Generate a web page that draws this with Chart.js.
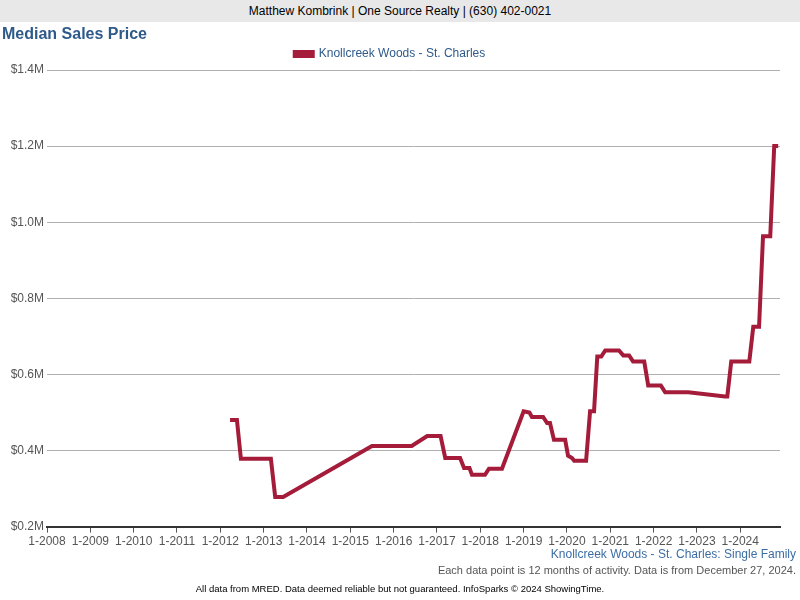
<!DOCTYPE html>
<html><head><meta charset="utf-8">
<script src="https://cdn.jsdelivr.net/npm/chart.js@4"></script>
<style>
body{margin:0;width:800px;height:600px;position:relative;font-family:Arial,"Liberation Sans",sans-serif;background:#fff;overflow:hidden}
#hdr{position:absolute;left:0;top:0;width:800px;height:22px;background:#e8e8e8;text-align:center;font-size:12px;line-height:22px;color:#000}
#ttl{position:absolute;left:2px;top:25px;font-size:16px;font-weight:bold;color:#2e5a8a}
.t{position:absolute;right:4px;font-size:11px}
#c{position:absolute;left:0;top:0}
</style></head><body>
<canvas id="c" width="800" height="600"></canvas>
<div id="hdr">Matthew Kombrink | One Source Realty | (630) 402-0021</div>
<div id="ttl">Median Sales Price</div>
<div class="t" style="top:547px;color:#3b6ea5;font-size:12px">Knollcreek Woods - St. Charles: Single Family</div>
<div class="t" style="top:564px;color:#555">Each data point is 12 months of activity. Data is from December 27, 2024.</div>
<div style="position:absolute;top:583px;width:800px;text-align:center;font-size:9.5px;color:#000">All data from MRED. Data deemed reliable but not guaranteed. InfoSparks © 2024 ShowingTime.</div>
<script>
const seriesName = "Knollcreek Woods - St. Charles";
// months since Jan 2008
const months = [50.7,52.6,53.7,62,63.2,65.4,90,101,105.3,109,110.3,114.4,115.5,117,117.7,121.3,122.4,126,132,133.6,134.3,137.4,138.5,139.3,140.4,143.5,144.3,145.4,146,149.3,150.4,151.5,152.4,153.5,154.6,158.4,159.6,161.2,162.3,165.4,166.5,170,171.2,177.6,187.8,188.4,189.5,194.5,195.6,197.2,198.3,200.3,201.4,202.5];
const prices = [0.48,0.48,0.378,0.378,0.278,0.278,0.412,0.412,0.438,0.438,0.38,0.38,0.354,0.354,0.336,0.336,0.352,0.352,0.503,0.5,0.488,0.488,0.472,0.472,0.428,0.428,0.386,0.38,0.373,0.373,0.503,0.503,0.647,0.647,0.663,0.663,0.65,0.65,0.634,0.634,0.571,0.571,0.553,0.553,0.542,0.542,0.634,0.634,0.725,0.725,0.963,0.963,1.2,1.2];
const yTicks = [0.2,0.4,0.6,0.8,1.0,1.2,1.4];
const startYear = 2008;
new Chart(document.getElementById('c'),{
 type:'line',
 data:{datasets:[{label:seriesName,data:months.map((m,i)=>({x:m,y:prices[i]})),borderColor:'#a51c3a',backgroundColor:'#a51c3a',borderWidth:4,pointRadius:0,tension:0}]},
 options:{responsive:false,animation:false,
  layout:{padding:{top:44,right:20,bottom:49,left:0}},
  plugins:{legend:{labels:{boxWidth:18,boxHeight:4,color:'#2e5a8a',font:{size:12,family:'Arial'},padding:4}},tooltip:{enabled:false}},
  scales:{
   x:{type:'linear',min:0,max:203,afterBuildTicks:a=>{a.ticks=[];for(let v=0;v<=192;v+=12)a.ticks.push({value:v});},
      ticks:{callback:v=>'1-'+(startYear+v/12),color:'#555',font:{size:12,family:'Arial'},maxRotation:0,autoSkip:false,padding:2},
      grid:{display:true,drawOnChartArea:false,color:'#555',tickLength:6},border:{color:'#333',width:2}},
   y:{min:0.2,max:1.4,afterBuildTicks:a=>{a.ticks=yTicks.map(v=>({value:v}));},afterFit:a=>{a.width=47;},
      ticks:{callback:v=>'$'+v.toFixed(1)+'M',color:'#555',font:{size:12,family:'Arial'}},
      grid:{color:'#b0b0b0',drawTicks:false},border:{display:false}}
  }}
});
</script></body></html>
